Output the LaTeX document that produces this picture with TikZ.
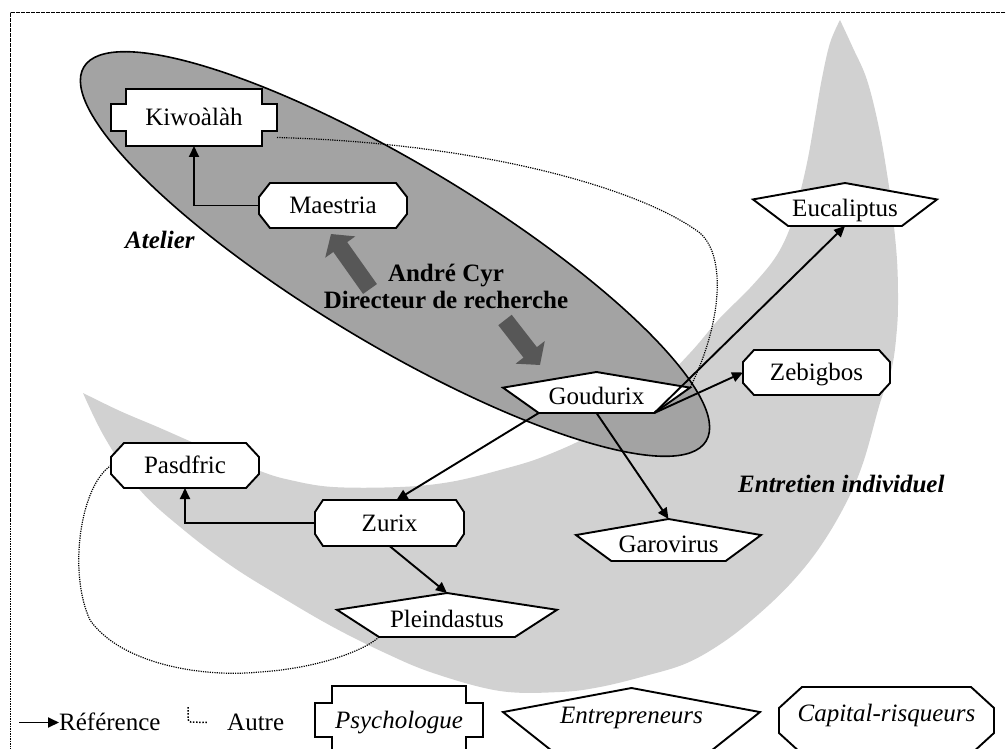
\documentclass[tikz,border=0pt]{standalone}
\usepackage{fontspec}
\setmainfont{Liberation Serif}
\usetikzlibrary{arrows.meta,calc}

\newcommand\figfont{\fontsize{25}{27}\selectfont}

\makeatletter
% size of the cut corners of the box shapes
\pgfkeys{/pgf/cut x/.initial=11pt,/pgf/cut y/.initial=13pt}
\def\sb@inherit{%
  \inheritsavedanchors[from=rectangle]%
  \inheritanchorborder[from=rectangle]%
  \inheritanchor[from=rectangle]{center}%
  \inheritanchor[from=rectangle]{north}%
  \inheritanchor[from=rectangle]{south}%
  \inheritanchor[from=rectangle]{east}%
  \inheritanchor[from=rectangle]{west}%
  \inheritanchor[from=rectangle]{north east}%
  \inheritanchor[from=rectangle]{north west}%
  \inheritanchor[from=rectangle]{south east}%
  \inheritanchor[from=rectangle]{south west}}
\def\sb@corners{%
  \southwest\edef\sb@xa{\the\pgf@x}\edef\sb@ya{\the\pgf@y}%
  \northeast\edef\sb@xb{\the\pgf@x}\edef\sb@yb{\the\pgf@y}%
  \pgfmathsetlengthmacro\sb@cx{\pgfkeysvalueof{/pgf/cut x}}%
  \pgfmathsetlengthmacro\sb@cy{\pgfkeysvalueof{/pgf/cut y}}}
\def\sb@to#1#2{\pgfpathlineto{\pgfpoint{#1}{#2}}}

% rectangle with chamfered corners
\pgfdeclareshape{octbox}{%
  \sb@inherit
  \backgroundpath{%
    \sb@corners
    \pgfpathmoveto{\pgfpoint{(\sb@xa)+(\sb@cx)}{\sb@yb}}%
    \sb@to{(\sb@xb)-(\sb@cx)}{\sb@yb}%
    \sb@to{\sb@xb}{(\sb@yb)-(\sb@cy)}%
    \sb@to{\sb@xb}{(\sb@ya)+(\sb@cy)}%
    \sb@to{(\sb@xb)-(\sb@cx)}{\sb@ya}%
    \sb@to{(\sb@xa)+(\sb@cx)}{\sb@ya}%
    \sb@to{\sb@xa}{(\sb@ya)+(\sb@cy)}%
    \sb@to{\sb@xa}{(\sb@yb)-(\sb@cy)}%
    \pgfpathclose}}

% rectangle with square notches at the corners
\pgfdeclareshape{plaquebox}{%
  \sb@inherit
  \backgroundpath{%
    \sb@corners
    \pgfpathmoveto{\pgfpoint{(\sb@xa)+(\sb@cx)}{\sb@yb}}%
    \sb@to{(\sb@xb)-(\sb@cx)}{\sb@yb}%
    \sb@to{(\sb@xb)-(\sb@cx)}{(\sb@yb)-(\sb@cy)}%
    \sb@to{\sb@xb}{(\sb@yb)-(\sb@cy)}%
    \sb@to{\sb@xb}{(\sb@ya)+(\sb@cy)}%
    \sb@to{(\sb@xb)-(\sb@cx)}{(\sb@ya)+(\sb@cy)}%
    \sb@to{(\sb@xb)-(\sb@cx)}{\sb@ya}%
    \sb@to{(\sb@xa)+(\sb@cx)}{\sb@ya}%
    \sb@to{(\sb@xa)+(\sb@cx)}{(\sb@ya)+(\sb@cy)}%
    \sb@to{\sb@xa}{(\sb@ya)+(\sb@cy)}%
    \sb@to{\sb@xa}{(\sb@yb)-(\sb@cy)}%
    \sb@to{(\sb@xa)+(\sb@cx)}{(\sb@yb)-(\sb@cy)}%
    \pgfpathclose}}

% stretched pentagon, apex up
\pgfdeclareshape{pentabox}{%
  \sb@inherit
  \anchor{lower left}{\northeast\pgf@xb=\pgf@x\southwest\pgf@xa=\pgf@x
    \pgf@x=\pgf@xb\advance\pgf@x by -\pgf@xa\pgf@x=0.191\pgf@x\advance\pgf@x by \pgf@xa}%
  \anchor{lower right}{\northeast\pgf@xb=\pgf@x\southwest\pgf@xa=\pgf@x
    \pgf@x=\pgf@xa\advance\pgf@x by -\pgf@xb\pgf@x=0.191\pgf@x\advance\pgf@x by \pgf@xb}%
  \anchor{right corner}{\southwest\pgf@ya=\pgf@y\northeast
    \pgf@yb=\pgf@y\advance\pgf@yb by -\pgf@ya\advance\pgf@y by -0.382\pgf@yb}%
  \anchor{left corner}{\northeast\pgf@yb=\pgf@y\southwest
    \advance\pgf@y by -\pgf@yb\pgf@y=0.382\pgf@y\advance\pgf@y by \pgf@yb}%
  \backgroundpath{%
    \sb@corners
    \pgfmathsetlengthmacro\sb@ys{(\sb@yb)-0.382*((\sb@yb)-(\sb@ya))}%
    \pgfmathsetlengthmacro\sb@in{0.191*((\sb@xb)-(\sb@xa))}%
    \pgfmathsetlengthmacro\sb@xm{0.5*((\sb@xa)+(\sb@xb))}%
    \pgfpathmoveto{\pgfpoint{\sb@xa}{\sb@ys}}%
    \sb@to{\sb@xm}{\sb@yb}%
    \sb@to{\sb@xb}{\sb@ys}%
    \sb@to{(\sb@xb)-(\sb@in)}{\sb@ya}%
    \sb@to{(\sb@xa)+(\sb@in)}{\sb@ya}%
    \pgfpathclose}}
\makeatother

\pgfdeclarelayer{zones}
\pgfsetlayers{zones,main}

\begin{document}
\begin{tikzpicture}[x=1pt,y=1pt,font=\figfont,
  boxbase/.style={draw,line width=1.9pt,fill=white,inner sep=0pt,outer sep=0pt,
    text height=16.5pt,text depth=0pt},
  octnode/.style={boxbase,shape=octbox,minimum width=148pt,minimum height=45pt},
  pentnode/.style={boxbase,shape=pentabox,text height=24pt},
  plaquenode/.style={boxbase,shape=plaquebox},
  plaintext/.style={inner sep=0pt,text height=16.5pt,text depth=0pt,anchor=west},
  refarrow/.style={line width=1.9pt,-{Triangle[length=11pt,width=10pt]}},
  otherlink/.style={line width=1.2pt,dash pattern=on 1.2pt off 1.1pt},
  bigarrow/.style={line width=17pt,draw=black!66,-{Triangle[length=16pt,width=36pt]}},
  zonelabel/.style={font=\figfont\bfseries\itshape,inner sep=0pt,anchor=base west},
  framedash/.style={line width=1pt,dash pattern=on 1.6pt off 0.9pt}]

\useasboundingbox (0,0) rectangle (1006,748);

% shaded zones
\begin{pgfonlayer}{zones}
  % "Entretien individuel": crescent
  \fill[black!18]
    plot[smooth,tension=0.6] coordinates {(83,355) (105,310) (140,258) (185,217)
      (233,181) (283,150) (333,121) (383,96) (433,75) (500,57) (560,56) (600,61)
      (645,72) (687,85) (725,107) (760,135) (792,166) (820,201) (845,243)
      (863,285) (880,345) (892,381) (897,420) (898,450) (897,488) (893,530)
      (888,568) (879,620) (867,668) (853,700) (840,728)}
    -- plot[smooth,tension=0.6] coordinates {(840,728) (830,705) (822,670)
      (815,630) (808,590) (800,555) (790,520) (775,490) (750,460) (720,430)
      (690,395) (650,355) (600,318) (545,292) (500,278) (450,266) (400,261)
      (333,261) (290,268) (260,277) (210,298) (160,320) (120,337) (83,355)}
    -- cycle;
  % "Atelier": tilted ellipse
  \filldraw[fill=black!36,line width=1.6pt,rotate around={-31:(395,494)}]
    (395,494) ellipse [x radius=363,y radius=90];
\end{pgfonlayer}

\clip (0,0) rectangle (1006,748);
\draw[framedash] (10,735) rectangle (1030,-30);

% zone labels
\node[zonelabel] (atelier) at (125,499) {Atelier};
\node[zonelabel] (entretien) at (738,256) {Entretien individuel};

% nodes
\node[plaquenode,minimum width=166pt,minimum height=57pt,cut x=15pt,cut y=15pt]
  (kiwo) at (194,630.5) {Kiwoàlàh};
\node[octnode,cut x=11pt,cut y=14pt] (maes) at (333,542.5) {Maestria};
\node[pentnode,minimum width=184pt,minimum height=43pt] (euc) at (845,543.5) {Eucaliptus};
\node[octnode,minimum width=147pt,cut x=11pt,cut y=12pt] (zeb) at (816.5,375.5) {Zebigbos};
\node[pentnode,minimum width=187pt,minimum height=41pt] (goud) at (596.5,355.5) {Goudurix};
\node[pentnode,minimum width=185pt,minimum height=42pt] (garo) at (668.5,208) {Garovirus};
\node[octnode,minimum width=149pt,minimum height=46pt,cut x=8pt,cut y=12pt] (zur) at (389.5,225) {Zurix};
\node[octnode,cut x=13pt,cut y=14pt] (pas) at (185,282.5) {Pasdfric};
\node[pentnode,minimum width=220pt,minimum height=44pt] (plein) at (447,133) {Pleindastus};

% "Autre" links
\draw[otherlink] ($(kiwo.east)+(0,-20)$) .. controls (480,605) and (640,560) .. (700,515)
  .. controls (728,490) and (720,420) .. (goud.right corner);
\draw[otherlink] (pas.west) .. controls (80,262) and (68,175) .. (90,128)
  .. controls (120,85) and (200,70) .. (260,76)
  .. controls (320,80) and (365,98) .. (plein.lower left);

% "Référence" links
\draw[refarrow] (maes.west) -| (kiwo.south);
\draw[refarrow] (zur.west) -| (pas.south);
\draw[refarrow] (goud.lower left) -- ([xshift=7pt]zur.north);
\draw[refarrow] (goud.lower right) -- (euc.south);
\draw[refarrow] (goud.lower right) -- (zeb.west);
\draw[refarrow] (goud.south) -- (garo.north);
\draw[refarrow] (zur.south) -- (plein.north);

% research director and his two block arrows
\coordinate (upTail) at (370,459);
\coordinate (upTip) at (331,514);
\coordinate (downTail) at (505,428);
\coordinate (downTip) at (540,383);
\draw[bigarrow] (upTail) -- (upTip);
\draw[bigarrow] (downTail) -- (downTip);
\node[font=\figfont\bfseries,align=center,inner sep=0pt] (dir) at (446,462)
  {André Cyr\\Directeur de recherche};

% legend
\coordinate (legA) at (19,25.5);
\node[plaintext] (lref) at (59,25.5) {Référence};
\draw[refarrow] (legA) -- (lref.west);
\draw[otherlink,line width=1.5pt,dash pattern=on 1.5pt off 1.6pt,rounded corners=3pt]
  (188,41) -- (188,26) -- (207,25.5);
\node[plaintext] (lautre) at (227,25.5) {Autre};
\node[plaquenode,font=\figfont\itshape,minimum width=168pt,minimum height=68pt,
  cut x=17pt,cut y=17pt] (lpsy) at (399,28) {Psychologue};
\node[pentnode,font=\figfont\itshape,minimum width=257pt,minimum height=63pt,
  text height=16.5pt,text depth=9pt] (lent) at (631.5,28.5) {Entrepreneurs};
\node[octnode,font=\figfont\itshape,minimum width=215pt,minimum height=67pt,
  cut x=23pt,cut y=21pt,text depth=15pt] (lcap) at (886.5,27.5) {Capital-risqueurs};
\end{tikzpicture}
\end{document}
